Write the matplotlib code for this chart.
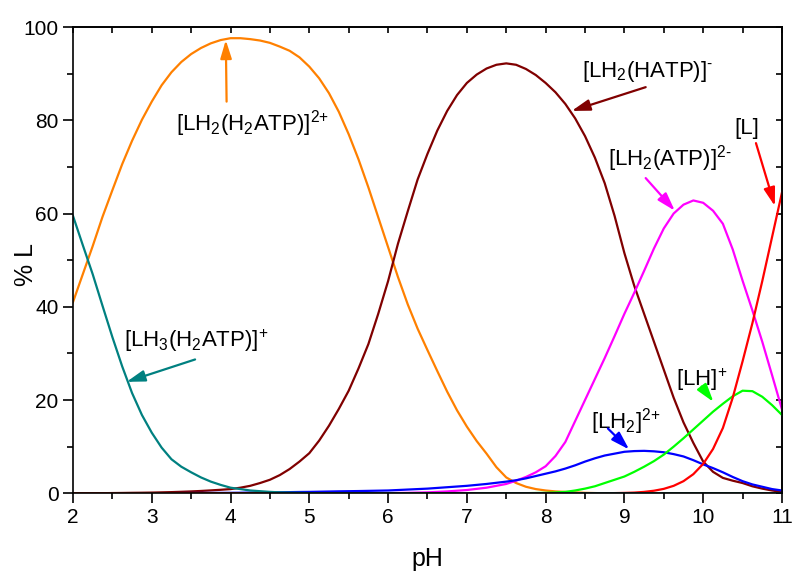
import numpy as np
import matplotlib
matplotlib.use("Agg")
import matplotlib.pyplot as plt
from matplotlib.ticker import MultipleLocator

plt.rcParams['font.family'] = ['Liberation Sans', 'DejaVu Sans']
plt.rcParams['mathtext.fontset'] = 'custom'
plt.rcParams['mathtext.rm'] = 'Liberation Sans'
plt.rcParams['mathtext.it'] = 'Liberation Sans:italic'
plt.rcParams['mathtext.bf'] = 'Liberation Sans:bold'

# pH values the curves were read at
ph = [2.0, 2.125, 2.25, 2.375, 2.5, 2.625, 2.75, 2.875,
      3.0, 3.125, 3.25, 3.375, 3.5, 3.625, 3.75, 3.875,
      4.0, 4.125, 4.25, 4.375, 4.5, 4.625, 4.75, 4.875,
      5.0, 5.125, 5.25, 5.375, 5.5, 5.625, 5.75, 5.875,
      6.0, 6.125, 6.25, 6.375, 6.5, 6.625, 6.75, 6.875,
      7.0, 7.125, 7.25, 7.375, 7.5, 7.625, 7.75, 7.875,
      8.0, 8.125, 8.25, 8.375, 8.5, 8.625, 8.75, 8.875,
      9.0, 9.125, 9.25, 9.375, 9.5, 9.625, 9.75, 9.875,
      10.0, 10.125, 10.25, 10.375, 10.5, 10.625, 10.75, 10.875, 11.0]

# % L for each species
lh2_h2atp = [41, 47, 53, 59.3, 65, 70.6, 75.6, 80.1,
             84, 87.5, 90.3, 92.5, 94.2, 95.5, 96.5, 97.2,
             97.6, 97.6, 97.4, 97.1, 96.6, 95.8, 94.9, 93.5,
             91.5, 89, 85.8, 81.8, 77, 71.6, 65.6, 59.2,
             52.8, 46.4, 40.5, 35.3, 30.7, 26.2, 21.8, 17.8,
             14.3, 11.2, 8.5, 5.6, 3.4, 2.2, 1.4, 0.9,
             0.6, 0.4, 0.3, 0.2, 0.1, 0.05, 0, 0,
             0, 0, 0, 0, 0, 0, 0, 0,
             0, 0, 0, 0, 0, 0, 0, 0, 0]
lh2_hatp = [0, 0, 0, 0.02, 0.05, 0.07, 0.1, 0.12,
            0.15, 0.2, 0.25, 0.32, 0.4, 0.5, 0.62, 0.75,
            0.9, 1.2, 1.6, 2.2, 2.9, 3.9, 5.2, 6.8,
            8.6, 11.3, 14.5, 18.1, 22, 26.8, 32, 38.5,
            45.5, 53.5, 60.5, 67.3, 72.8, 77.8, 82, 85.4,
            88, 89.8, 91.1, 91.9, 92.2, 91.9, 91, 89.7,
            88, 86, 83.5, 80.4, 76.6, 72, 66.5, 59.5,
            51.5, 44.5, 38.5, 32.5, 26.5, 20.5, 15.2, 10.8,
            6.8, 4.6, 3.3, 2.7, 2.2, 1.5, 1.0, 0.6, 0.3]
lh2_atp = [0, 0, 0, 0, 0, 0, 0, 0,
           0, 0, 0, 0, 0, 0, 0, 0,
           0, 0, 0, 0, 0, 0, 0, 0,
           0, 0, 0, 0, 0, 0, 0, 0,
           0.03, 0.07, 0.1, 0.15, 0.2, 0.3, 0.4, 0.55,
           0.7, 0.95, 1.2, 1.6, 2.0, 2.7, 3.5, 4.5,
           5.8, 8.0, 11.0, 15.5, 20, 24.5, 29, 33.7,
           38.5, 43, 47.7, 52.5, 56.8, 60, 61.9, 62.8,
           62.3, 60.6, 57.8, 52.3, 45.6, 39.2, 32.5, 25.3, 18]
lh2 = [0, 0, 0, 0, 0.01, 0.01, 0.01, 0.02,
       0.02, 0.03, 0.04, 0.05, 0.06, 0.07, 0.08, 0.09,
       0.1, 0.12, 0.15, 0.17, 0.2, 0.22, 0.25, 0.28,
       0.3, 0.34, 0.38, 0.42, 0.45, 0.48, 0.52, 0.56,
       0.6, 0.7, 0.8, 0.9, 1.0, 1.15, 1.3, 1.45,
       1.6, 1.8, 2.0, 2.25, 2.5, 2.8, 3.2, 3.7,
       4.2, 4.7, 5.3, 6.0, 6.8, 7.5, 8.1, 8.5,
       8.9, 9.05, 9.1, 9.0, 8.8, 8.4, 7.9, 7.1,
       6.2, 5.4, 4.5, 3.5, 2.6, 1.9, 1.4, 0.9, 0.6]
lh = [0, 0, 0, 0, 0, 0, 0, 0,
      0, 0, 0, 0, 0, 0, 0, 0,
      0, 0, 0, 0, 0, 0, 0, 0,
      0, 0, 0, 0, 0, 0, 0, 0,
      0, 0, 0, 0, 0, 0, 0, 0,
      0, 0, 0, 0, 0, 0, 0.03, 0.06,
      0.1, 0.18, 0.3, 0.6, 1.0, 1.5, 2.2, 2.9,
      3.6, 4.6, 5.7, 6.9, 8.3, 10.0, 11.8, 13.7,
      15.6, 17.5, 19.2, 20.8, 22.0, 21.9, 20.7, 18.9, 16.8]
l_free = [0, 0, 0, 0, 0, 0, 0, 0,
          0, 0, 0, 0, 0, 0, 0, 0,
          0, 0, 0, 0, 0, 0, 0, 0,
          0, 0, 0, 0, 0, 0, 0, 0,
          0, 0, 0, 0, 0, 0, 0, 0,
          0, 0, 0, 0, 0, 0, 0, 0,
          0, 0, 0, 0, 0, 0, 0.02, 0.04,
          0.08, 0.15, 0.3, 0.55, 0.95, 1.6, 2.6, 4.1,
          6.3, 9.5, 14.0, 20.5, 28.3, 36.5, 45.5, 55, 64.5]
lh3_h2atp = [59.5, 53.2, 47, 40.2, 33.5, 27.2, 21.5, 16.8,
             13, 9.8, 7.3, 5.7, 4.5, 3.4, 2.5, 1.8,
             1.2, 0.9, 0.6, 0.45, 0.3, 0.2, 0.15, 0.1,
             0.05, 0, 0, 0, 0, 0, 0, 0,
             0, 0, 0, 0, 0, 0, 0, 0,
             0, 0, 0, 0, 0, 0, 0, 0,
             0, 0, 0, 0, 0, 0, 0, 0,
             0, 0, 0, 0, 0, 0, 0, 0,
             0, 0, 0, 0, 0, 0, 0, 0, 0]

# (values, colour, label, label position, arrow tail, arrow head)
species = [
    (lh2_h2atp, '#FF8000', r'$\mathregular{[LH_2(H_2ATP)]^{2{+}}}$', (3.31, 77.9), (3.95, 84.0), (3.94, 97.2)),
    (lh2_hatp, '#800000', r'$\mathregular{[LH_2(HATP)]^{\text{-}}}$', (8.46, 89.2), (9.27, 87.1), (8.33, 82.0)),
    (lh2_atp, '#FF00FF', r'$\mathregular{[LH_2(ATP)]^{2\text{-}}}$', (8.79, 70.4), (9.27, 67.6), (9.64, 60.6)),
    (lh2, '#0000FF', r'$\mathregular{[LH_2]^{2{+}}}$', (8.58, 13.9), (8.79, 13.9), (9.06, 9.4)),
    (lh, '#00FF00', r'$\mathregular{[LH]^{+}}$', (9.65, 23.0), (9.98, 22.9), (10.13, 19.6)),
    (l_free, '#FF0000', '[L]', (10.40, 77.0), (10.67, 75.1), (10.91, 61.6)),
    (lh3_h2atp, '#008080', r'$\mathregular{[LH_3(H_2ATP)]^{+}}$', (2.65, 31.4), (3.55, 28.7), (2.68, 23.9)),
]

fig = plt.figure(figsize=(7.95, 5.71), dpi=100)
ax = fig.add_axes([0.0918, 0.1361, 0.8918, 0.8166])

for vals, col, lab, tpos, tail, head in species:
    ax.plot(ph, vals, color=col, lw=1.6)
    ax.text(tpos[0], tpos[1], lab, fontsize=16, ha='left', va='baseline')
    ax.annotate('', xy=head, xytext=tail,
                arrowprops=dict(arrowstyle='-|>,head_length=0.55,head_width=0.17',
                                color=col, lw=1.6, mutation_scale=20,
                                shrinkA=0, shrinkB=0))

ax.set_xlim(2, 11)
ax.set_ylim(0, 100)
ax.xaxis.set_major_locator(MultipleLocator(1))
ax.xaxis.set_minor_locator(MultipleLocator(0.5))
ax.yaxis.set_major_locator(MultipleLocator(20))
ax.yaxis.set_minor_locator(MultipleLocator(10))
ax.tick_params(which='major', direction='out', length=7, width=1.2, labelsize=15)
ax.tick_params(which='minor', direction='out', length=4, width=1.2)

# inward mirror ticks on top and right
top = ax.secondary_xaxis('top')
top.xaxis.set_major_locator(MultipleLocator(0.5))
top.tick_params(direction='in', length=4, width=1.2, labeltop=False)
right = ax.secondary_yaxis('right')
right.yaxis.set_major_locator(MultipleLocator(10))
right.tick_params(direction='in', length=4, width=1.2, labelright=False)
for sp in list(ax.spines.values()) + [top.spines['top'], right.spines['right']]:
    sp.set_linewidth(1.2)

ax.set_xlabel('pH', fontsize=18)
ax.set_ylabel('% L', fontsize=18)
ax.xaxis.set_label_coords(0.5, -0.115)
ax.yaxis.set_label_coords(-0.05, 0.49)

fig.savefig('out.png', dpi=100)
